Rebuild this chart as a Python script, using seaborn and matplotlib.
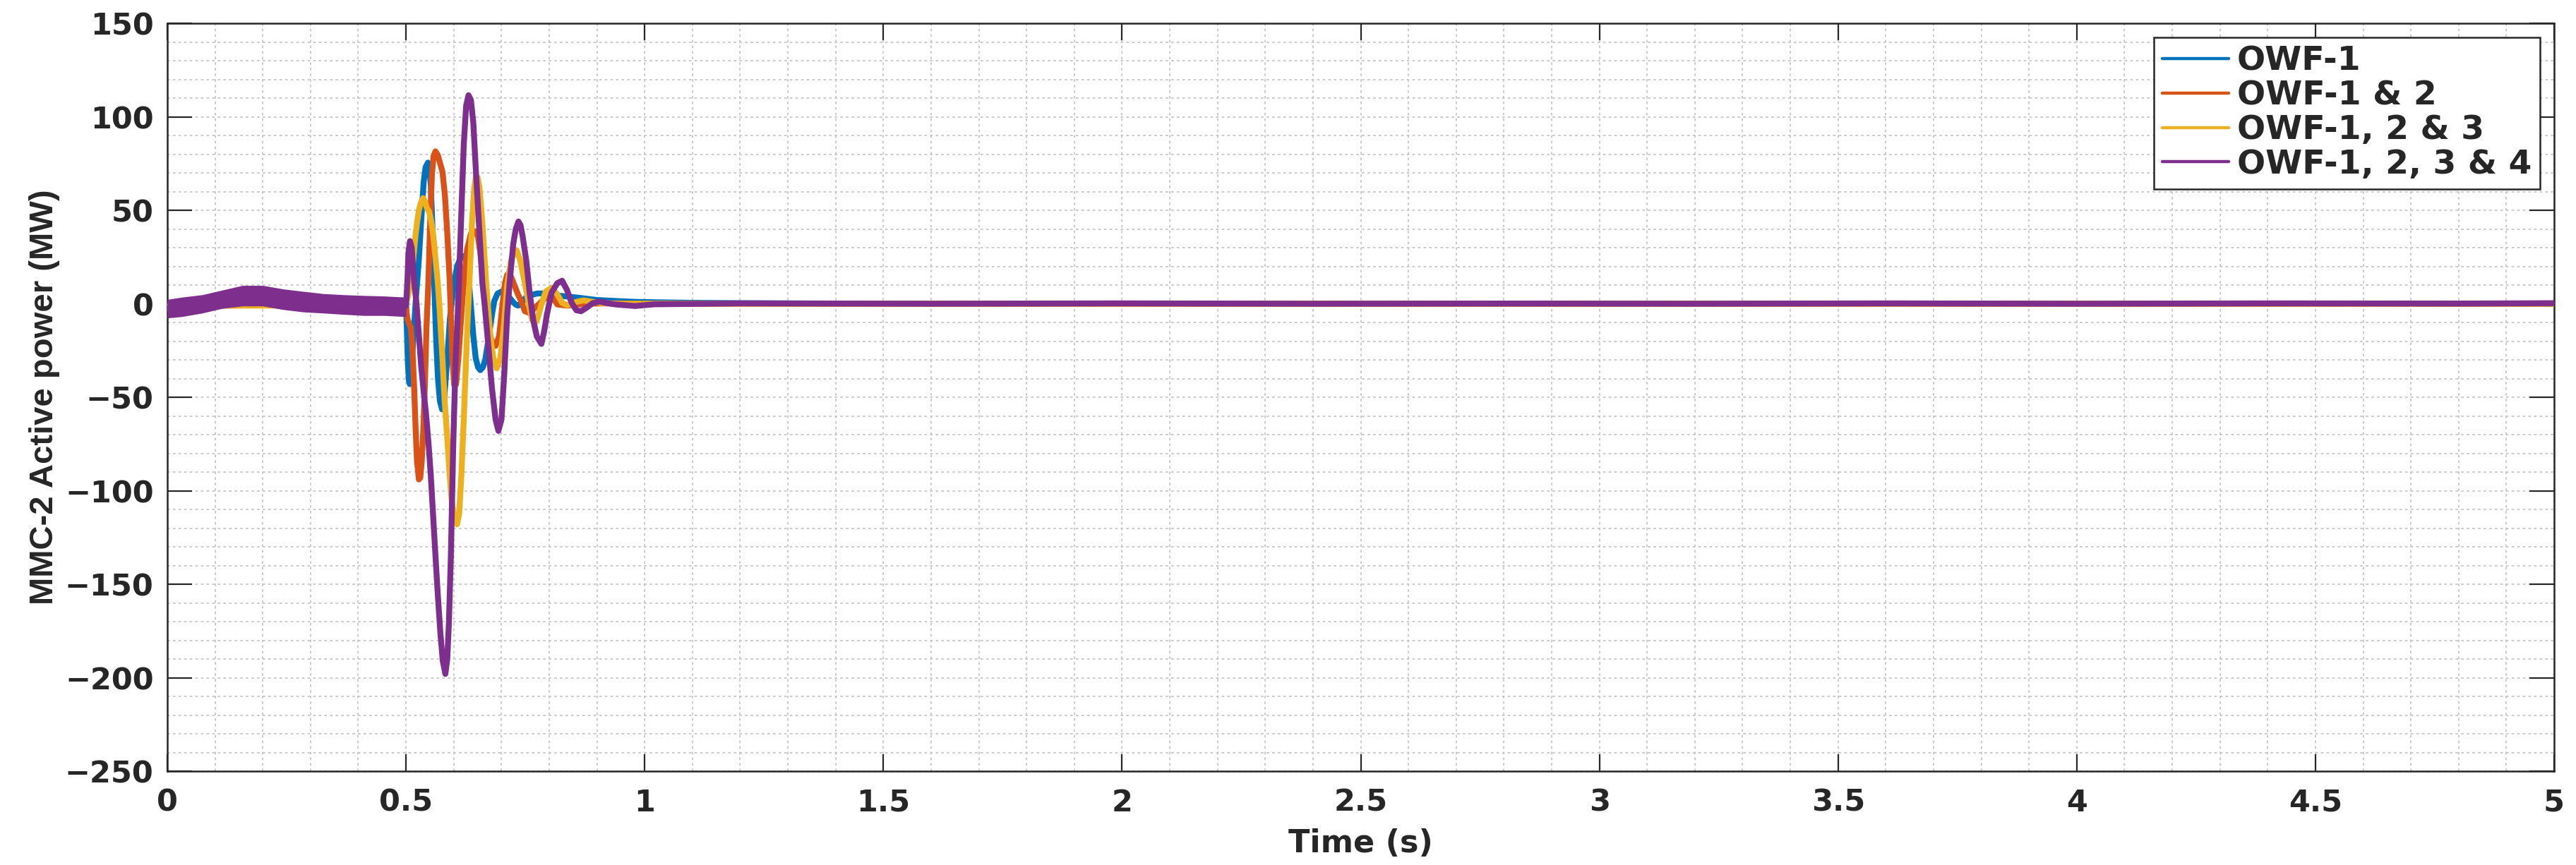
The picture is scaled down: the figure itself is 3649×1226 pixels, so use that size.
import numpy as np
import pandas as pd
import matplotlib
matplotlib.use("Agg")
import matplotlib.pyplot as plt
import seaborn as sns
from matplotlib.ticker import FixedLocator, MultipleLocator
from matplotlib import font_manager
from matplotlib.lines import Line2D

# ---------------- data ----------------
SERIES = ["OWF-1", "OWF-1 & 2", "OWF-1, 2 & 3", "OWF-1, 2, 3 & 4"]
COLORS = ["#0072BD", "#D95319", "#EDB120", "#7E2F8E"]

X_TICKS = [0, 0.5, 1, 1.5, 2, 2.5, 3, 3.5, 4, 4.5, 5]
X_TICK_LABELS = ["0", "0.5", "1", "1.5", "2", "2.5", "3", "3.5", "4", "4.5", "5"]
Y_TICKS = [-250, -200, -150, -100, -50, 0, 50, 100, 150]
Y_TICK_LABELS = ["\u2212250", "\u2212200", "\u2212150", "\u2212100", "\u221250", "0", "50", "100", "150"]
X_LABEL = "Time (s)"
Y_LABEL = "MMC-2 Active power (MW)"

# (time s, power MW)
OWF1 = [(0.0, -1.5), (0.1, -0.5), (0.2, 0.0), (0.3, 0.0), (0.4, 0.0), (0.498, 0.0),
        (0.500, 0.0), (0.502, -15), (0.504, -32), (0.506, -41), (0.508, -43), (0.511, -37),
        (0.515, -20), (0.520, 0), (0.527, 24), (0.532, 45), (0.537, 65), (0.541, 73),
        (0.546, 75.5), (0.549, 73), (0.552, 63), (0.555, 44), (0.559, 12), (0.563, -18),
        (0.567, -40), (0.571, -52), (0.5756, -56.5), (0.580, -51), (0.586, -31), (0.592, -8),
        (0.600, 10), (0.607, 20), (0.614, 24.5), (0.621, 25.5), (0.626, 23), (0.631, 14),
        (0.636, -1), (0.641, -17), (0.646, -29), (0.651, -34), (0.6556, -35.5), (0.661, -34),
        (0.666, -30), (0.671, -22), (0.675, -15), (0.680, -6), (0.685, 1.5), (0.692, 5.5),
        (0.700, 6.5), (0.708, 5.5), (0.716, 3.5), (0.724, 1), (0.730, -0.5), (0.735, -1),
        (0.742, 0.5), (0.750, 3), (0.760, 4.5), (0.775, 5.5), (0.788, 5.5), (0.800, 5),
        (0.815, 4.5), (0.832, 4), (0.862, 3.2), (0.900, 2), (0.946, 1.4), (0.980, 1),
        (1.02, 0.8), (1.10, 0.5), (1.20, 0.3), (1.40, 0.1), (1.8, 0.0), (2.6, 0.0),
        (3.4, 0.0), (4.2, 0.0), (5.0, 0.0)]

OWF12 = [(0.0, -1.5), (0.1, -1.0), (0.2, -0.8), (0.3, -0.8), (0.4, -0.5), (0.498, 0.0),
         (0.500, -2), (0.503, -8), (0.507, -11), (0.510, -12.5), (0.513, -22), (0.517, -44),
         (0.520, -66), (0.523, -84), (0.527, -94), (0.530, -93), (0.533, -84), (0.536, -69),
         (0.5395, -44), (0.543, -12), (0.547, 12), (0.551, 47), (0.5543, 69), (0.5578, 79),
         (0.5617, 81.5), (0.5667, 79.5), (0.5716, 75), (0.5765, 70.5), (0.5815, 58),
         (0.5864, 38), (0.5914, 13), (0.594, -6), (0.597, -29), (0.601, -43.5), (0.605, -43),
         (0.610, -28), (0.616, -6), (0.621, 11.5), (0.628, 29), (0.636, 37.5), (0.6447, 38.8),
         (0.6506, 36), (0.6556, 27.5), (0.6615, 13.5), (0.668, -6), (0.675, -16),
         (0.6815, -21.5), (0.6877, -22.5), (0.695, -17.5), (0.7025, 0.3), (0.7074, 11),
         (0.712, 15.5), (0.720, 14.5), (0.727, 10), (0.7346, 5), (0.742, 1), (0.749, -4),
         (0.759, -5), (0.769, -2.5), (0.779, 0), (0.788, 2), (0.798, 4.5), (0.807, 3.5),
         (0.817, -0.4), (0.837, -1), (0.857, -0.5), (0.880, 0), (0.920, 0.2), (1.0, 0.0),
         (1.5, 0.0), (2.5, 0.0), (3.5, 0.0), (4.5, 0.0), (5.0, 0.0)]

OWF123 = [(0.0, -1.5), (0.1, -1.0), (0.2, -1.0), (0.3, -1.0), (0.4, -0.5), (0.498, 0.0),
          (0.500, 0), (0.503, 3), (0.507, 8), (0.5123, 15), (0.516, 26), (0.5198, 36),
          (0.523, 43), (0.527, 50), (0.531, 54), (0.536, 56.5), (0.540, 54.5), (0.544, 51),
          (0.548, 49.5), (0.552, 45.5), (0.556, 39), (0.559, 32), (0.5667, 11), (0.571, -5),
          (0.5765, -30), (0.581, -52), (0.586, -70), (0.591, -90), (0.596, -106),
          (0.601, -114), (0.607, -118), (0.6115, -112), (0.616, -92), (0.621, -62),
          (0.625, -35), (0.629, -10), (0.633, 12), (0.638, 42), (0.643, 62), (0.6467, 68.5),
          (0.650, 67.5), (0.654, 62), (0.660, 43), (0.664, 27), (0.668, 11), (0.675, -12),
          (0.679, -22), (0.683, -29), (0.690, -34.5), (0.6975, -29.5), (0.705, -12),
          (0.712, 10), (0.720, 23), (0.726, 27.5), (0.732, 28.5), (0.7395, 23), (0.745, 16),
          (0.749, 11), (0.757, 0), (0.764, -8.5), (0.770, -10.5), (0.776, -7.5), (0.783, -1),
          (0.7926, 6.5), (0.805, 8.5), (0.817, 5), (0.827, 0.5), (0.837, -0.8), (0.847, 0),
          (0.857, 1), (0.872, 1.8), (0.891, 1), (0.910, 0.3), (0.950, 0.0), (1.5, 0.0),
          (2.5, 0.0), (3.5, 0.0), (4.5, 0.0), (5.0, 0.0)]

OWF1234 = [(0.0, -2.5), (0.073, -0.1), (0.115, 2.4), (0.1575, 4.3), (0.200, 4.3),
           (0.2424, 2.4), (0.285, 1.1), (0.327, 0.2), (0.370, -0.5), (0.412, -1.0),
           (0.4546, -1.1), (0.498, -1.5),
           (0.500, -1), (0.503, 12), (0.505, 27), (0.5084, 33.5), (0.512, 30), (0.517, 12),
           (0.522, 0), (0.527, -17), (0.532, -34), (0.537, -47), (0.542, -59), (0.547, -74),
           (0.552, -92), (0.557, -114), (0.562, -136), (0.567, -157), (0.572, -176),
           (0.577, -191), (0.5825, -198), (0.5865, -190), (0.590, -170), (0.594, -135),
           (0.599, -75), (0.604, -30), (0.608, -8), (0.611, 12), (0.616, 49), (0.621, 85),
           (0.626, 106), (0.631, 111.5), (0.636, 109), (0.641, 97), (0.646, 73), (0.653, 42),
           (0.660, 11), (0.665, -1), (0.673, -24), (0.680, -45), (0.6877, -62), (0.6936, -68),
           (0.700, -62), (0.706, -37), (0.712, -6), (0.717, 11), (0.7247, 32), (0.730, 40),
           (0.7356, 44), (0.740, 42), (0.7444, 36), (0.752, 23), (0.759, 6), (0.7667, -9),
           (0.774, -17.5), (0.7837, -21.5), (0.790, -14), (0.795, -6), (0.805, 6), (0.817, 11),
           (0.827, 12.3), (0.837, 7.5), (0.847, 0.5), (0.857, -3.5), (0.8667, -4), (0.879, -2),
           (0.891, 0.3), (0.906, 1.2), (0.921, 0.3), (0.940, -0.4), (0.980, -1.2),
           (1.02, -0.3), (1.2, 0.2), (1.6, 0.0), (2.0, 0.2), (2.4, 0.0), (2.8, 0.1),
           (3.2, 0.0), (3.6, 0.2), (4.0, 0.0), (4.4, 0.2), (4.8, 0.1), (5.0, 0.3)]

# envelope of the fast ripple on the OWF-1,2,3&4 trace before the fault
RIPPLE_PRE_T = [0.0, 0.03, 0.073, 0.115, 0.1575, 0.200, 0.2424, 0.285, 0.327, 0.370, 0.412, 0.4546, 0.500]
RIPPLE_PRE_HI = [2.3, 3.5, 4.8, 7.3, 9.8, 9.8, 7.9, 6.6, 5.4, 4.8, 4.4, 4.1, 3.5]
RIPPLE_PRE_LO = [-7.6, -6.9, -5.0, -2.5, -1.2, -1.2, -3.1, -4.4, -5.0, -5.7, -6.3, -6.3, -6.9]
# envelope of the small ripple after the transient
RIPPLE_POST_T = [1.0, 2.0, 3.0, 4.0, 5.0]
RIPPLE_POST_HI = [1.0, 1.0, 1.0, 1.1, 1.2]
RIPPLE_POST_LO = [-1.0, -0.9, -0.9, -0.9, -0.8]

ALL = [OWF1, OWF12, OWF123, OWF1234]

# ---------------- style ----------------
sns.set_style("ticks")
plt.rcParams["font.family"] = ["DejaVu Sans"]
plt.rcParams["axes.unicode_minus"] = True

INK = "#262626"
GRID = "#c6c6c6"

frames = []
for name, pts in zip(SERIES, ALL):
    frames.append(pd.DataFrame({"t": [p[0] for p in pts],
                                "P": [p[1] for p in pts],
                                "series": name}))
df = pd.concat(frames, ignore_index=True)

fig = plt.figure(figsize=(36.49, 12.26), dpi=100)
ax = fig.add_axes([0.06495, 0.10848, 0.92656, 0.86460])

for i, (name, col) in enumerate(zip(SERIES, COLORS)):
    sub = df[df["series"] == name]
    sns.lineplot(data=sub, x="t", y="P", color=col, lw=6.0, ax=ax,
                 estimator=None, sort=False, legend=False, zorder=3 + i)

ax.fill_between(RIPPLE_PRE_T, RIPPLE_PRE_LO, RIPPLE_PRE_HI, color=COLORS[3], lw=0, zorder=7)
ax.fill_between(RIPPLE_POST_T, RIPPLE_POST_LO, RIPPLE_POST_HI, color=COLORS[3], lw=0, zorder=7)

ax.set_xlim(0, 5)
ax.set_ylim(-250, 150)
ax.xaxis.set_major_locator(FixedLocator(X_TICKS))
ax.set_xticklabels(X_TICK_LABELS)
ax.yaxis.set_major_locator(FixedLocator(Y_TICKS))
ax.set_yticklabels(Y_TICK_LABELS)
ax.xaxis.set_minor_locator(MultipleLocator(0.1))
ax.yaxis.set_minor_locator(MultipleLocator(10))

ax.set_axisbelow(True)
ax.grid(which="both", color=GRID, linestyle=(0, (2, 2.4)), linewidth=1.3)

for lab in ax.get_xticklabels() + ax.get_yticklabels():
    lab.set_fontfamily("DejaVu Sans")
    lab.set_fontweight("bold")
    lab.set_fontsize(31)
    lab.set_color(INK)

ax.tick_params(axis="x", which="major", direction="in", length=17, width=1.6,
               color=INK, top=True, bottom=True, pad=17)
ax.tick_params(axis="y", which="major", direction="in", length=25, width=1.6,
               color=INK, left=True, right=True, pad=14)
ax.tick_params(which="minor", length=0, top=True, right=True)

for s in ax.spines.values():
    s.set_visible(True)
    s.set_linewidth(1.8)
    s.set_color(INK)

ax.set_xlabel(X_LABEL, fontfamily="DejaVu Sans", fontweight="bold", fontsize=32, color=INK)
ax.xaxis.set_label_coords(0.5, -0.0765)

names = {f.name for f in font_manager.fontManager.ttflist}
if "Liberation Sans Narrow" in names:
    yfam, ysize = "Liberation Sans Narrow", 40
else:
    yfam, ysize = "Liberation Sans", 34
ax.set_ylabel(Y_LABEL, fontfamily=yfam, fontweight="bold", fontsize=ysize, color=INK)
ax.yaxis.set_label_coords(-0.045, 0.5)

handles = [Line2D([0], [0], color=c, lw=3.2) for c in COLORS]
leg = ax.legend(handles, SERIES, loc="upper right", frameon=True, fancybox=False,
                framealpha=1, edgecolor=INK,
                prop=dict(family="DejaVu Sans", weight="bold", size=34),
                handlelength=2.0, handletextpad=0.25, labelspacing=0.08,
                borderpad=0.25, borderaxespad=0.42)
leg.get_frame().set_linewidth(1.8)
leg.set_zorder(20)

fig.savefig("out.png", dpi=100)
